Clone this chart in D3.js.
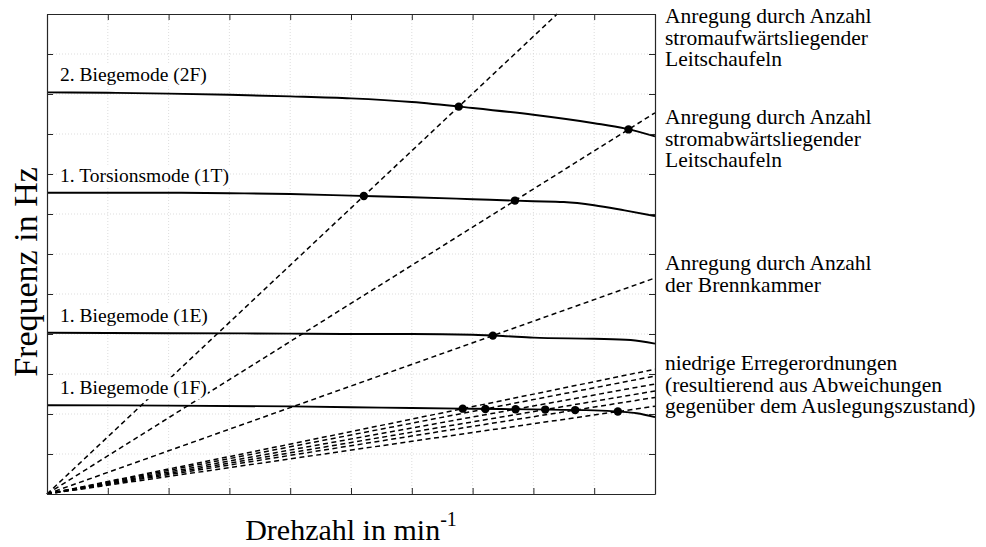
<!DOCTYPE html>
<html>
<head>
<meta charset="utf-8">
<script src="https://cdn.jsdelivr.net/npm/d3@7"></script>
<style>
  body { margin: 0; background: #fff; }
  svg { display: block; }
  text { font-family: "Liberation Serif", "Times New Roman", serif; fill: #000; }
</style>
</head>
<body>
<svg id="chart" width="986" height="547"></svg>
<script>
// Normalised speed (x) and frequency (y) tick positions; no numeric labels are shown
const xTickValues = [0, 1, 2, 3, 4, 5, 6, 7, 8, 9, 10];
const yTickValues = [0, 1, 2, 3, 4, 5, 6, 7, 8, 9, 10, 11, 12];

// Blade eigenfrequencies over speed
const mode2F_x = [0, 1, 2, 3, 4, 5, 6, 7, 8, 9, 9.5, 10];
const mode2F_f = [10.04, 10.03, 10.01, 9.98, 9.94, 9.89, 9.80, 9.65, 9.48, 9.27, 9.14, 8.94];
const mode1T_x = [0, 1, 2, 3, 4, 5, 6, 7, 8, 8.5, 9, 9.5, 10];
const mode1T_f = [7.53, 7.53, 7.53, 7.52, 7.50, 7.46, 7.42, 7.37, 7.32, 7.30, 7.22, 7.09, 6.95];
const mode1E_x = [0, 2, 4, 5, 6, 7, 7.5, 8, 9, 9.6, 10];
const mode1E_f = [4.03, 4.02, 4.01, 4.00, 4.00, 3.98, 3.95, 3.91, 3.88, 3.85, 3.76];
const mode1F_x = [0, 2, 4, 5, 6, 7, 8, 9, 9.4, 9.7, 10];
const mode1F_f = [2.22, 2.21, 2.19, 2.17, 2.15, 2.13, 2.115, 2.09, 2.06, 2.02, 1.92];

const modeKeys = ["2F", "1T", "1E", "1F"];
const modeLabels = ["2. Biegemode (2F)", "1. Torsionsmode (1T)", "1. Biegemode (1E)", "1. Biegemode (1F)"];

// Engine orders (frequency per speed unit) of the excitation rays
const upstreamOrder = 1.43;
const downstreamOrder = 0.953;
const combustorOrder = 0.54;
const lowOrders = [0.312, 0.295, 0.275, 0.2575, 0.2415, 0.2195];

// Which ray crosses which mode with a marked resonance
const resonancePairs = [
  ["up", "2F"], ["up", "1T"],
  ["down", "1T"], ["down", "2F"],
  ["comb", "1E"],
  ["low0", "1F"], ["low1", "1F"], ["low2", "1F"], ["low3", "1F"], ["low4", "1F"], ["low5", "1F"]
];

// Annotation text next to the ray ends
const noteUpstream = ["Anregung durch Anzahl", "stromaufwärtsliegender", "Leitschaufeln"];
const noteDownstream = ["Anregung durch Anzahl", "stromabwärtsliegender", "Leitschaufeln"];
const noteCombustor = ["Anregung durch Anzahl", "der Brennkammer"];
const noteLowOrders = ["niedrige Erregerordnungen", "(resultierend aus Abweichungen", "gegenüber dem Auslegungszustand)"];

const xTitle = "Drehzahl in min";
const xTitleSup = "-1";
const yTitle = "Frequenz in Hz";

// ---------------------------------------------------------------------------
(function () {
  const svg = d3.select("#chart");
  const pLeft = 47, pRight = 655, pTop = 14, pBottom = 494;
  const x = d3.scaleLinear().domain([0, 10]).range([pLeft, pRight]);
  const y = d3.scaleLinear().domain([0, 12]).range([pBottom, pTop]);

  const modes = {
    "2F": d3.zip(mode2F_x, mode2F_f),
    "1T": d3.zip(mode1T_x, mode1T_f),
    "1E": d3.zip(mode1E_x, mode1E_f),
    "1F": d3.zip(mode1F_x, mode1F_f)
  };
  const rays = { up: upstreamOrder, down: downstreamOrder, comb: combustorOrder };
  lowOrders.forEach((o, i) => { rays["low" + i] = o; });

  // grid
  const grid = svg.append("g");
  grid.selectAll("line.gx").data(xTickValues.slice(1, -1)).join("line").attr("class", "gx")
    .attr("x1", d => x(d)).attr("x2", d => x(d)).attr("y1", pTop).attr("y2", pBottom)
    .attr("stroke", "#d4d4d4").attr("stroke-width", 0.8).attr("stroke-dasharray", "1,2");
  grid.selectAll("line.gy").data(yTickValues.slice(1, -1)).join("line").attr("class", "gy")
    .attr("y1", d => y(d)).attr("y2", d => y(d)).attr("x1", pLeft).attr("x2", pRight)
    .attr("stroke", "#d4d4d4").attr("stroke-width", 0.8).attr("stroke-dasharray", "1,2");

  // mode curves
  const line = d3.line().x(d => x(d[0])).y(d => y(d[1])).curve(d3.curveMonotoneX);
  const modeG = svg.append("g");
  modeKeys.forEach(k => {
    modeG.append("path").datum(modes[k]).attr("d", line)
      .attr("fill", "none").attr("stroke", "#000").attr("stroke-width", 1.9);
  });

  // excitation rays from the origin to the plot border
  const rayG = svg.append("g");
  Object.keys(rays).forEach(k => {
    const s = rays[k];
    const xEnd = Math.min(10, 12 / s);
    rayG.append("line")
      .attr("x1", x(0)).attr("y1", y(0)).attr("x2", x(xEnd)).attr("y2", y(s * xEnd))
      .attr("stroke", "#000").attr("stroke-width", 1.5).attr("stroke-dasharray", "5,3.5");
  });

  // mode labels on white background
  const labelG = svg.append("g");
  modeKeys.forEach((k, i) => {
    const t = labelG.append("text").attr("x", 60).attr("y", y(modes[k][0][1]) - 11)
      .attr("font-size", 19.5).text(modeLabels[i]);
    const b = t.node().getBBox();
    labelG.insert("rect", "text").attr("x", b.x - 1).attr("y", b.y).attr("width", b.width + 2).attr("height", b.height)
      .attr("fill", "#fff");
  });

  // resonance points: crossing of ray and mode curve
  function crossing(curve, order) {
    for (let i = 0; i < curve.length - 1; i++) {
      const [x0, f0] = curve[i], [x1, f1] = curve[i + 1];
      const g0 = f0 - order * x0, g1 = f1 - order * x1;
      if (g0 >= 0 && g1 <= 0) {
        const t = g0 / (g0 - g1);
        const xc = x0 + t * (x1 - x0);
        return [xc, order * xc];
      }
    }
    return null;
  }
  const points = resonancePairs.map(([r, m]) => crossing(modes[m], rays[r])).filter(Boolean);
  svg.append("g").selectAll("circle").data(points).join("circle")
    .attr("cx", d => x(d[0])).attr("cy", d => y(d[1])).attr("r", 4.2).attr("fill", "#000");

  // frame with inward ticks on all sides
  const tick = 6;
  const axes = [
    [d3.axisBottom(x).tickValues(xTickValues), `translate(0,${pBottom})`],
    [d3.axisTop(x).tickValues(xTickValues), `translate(0,${pTop})`],
    [d3.axisLeft(y).tickValues(yTickValues), `translate(${pLeft},0)`],
    [d3.axisRight(y).tickValues(yTickValues), `translate(${pRight},0)`]
  ];
  axes.forEach(([ax, tr]) => {
    const g = svg.append("g").attr("transform", tr)
      .call(ax.tickSizeInner(-tick).tickSizeOuter(0).tickFormat(""));
    g.select(".domain").attr("stroke", "#262626").attr("stroke-width", 1.2);
    g.selectAll(".tick line").attr("stroke", "#262626").attr("stroke-width", 1);
  });

  // notes to the right of the plot
  function note(lines, yBase) {
    const t = svg.append("text").attr("x", 665).attr("y", yBase).attr("font-size", 21.5);
    lines.forEach((l, i) => t.append("tspan").attr("x", 665).attr("dy", i === 0 ? 0 : 21.7).text(l));
  }
  note(noteUpstream, 23);
  note(noteDownstream, 124);
  note(noteCombustor, 270);
  note(noteLowOrders, 370);

  // axis titles
  const xt = svg.append("text").attr("x", (pLeft + pRight) / 2).attr("y", 540)
    .attr("text-anchor", "middle").attr("font-size", 30).attr("fill", "#222");
  xt.append("tspan").text(xTitle);
  xt.append("tspan").attr("font-size", 20).attr("dy", -14).text(xTitleSup);

  svg.append("text").attr("transform", "translate(37,272) rotate(-90)")
    .attr("text-anchor", "middle").attr("font-size", 34).attr("fill", "#222").text(yTitle);
})();
</script>
</body>
</html>
